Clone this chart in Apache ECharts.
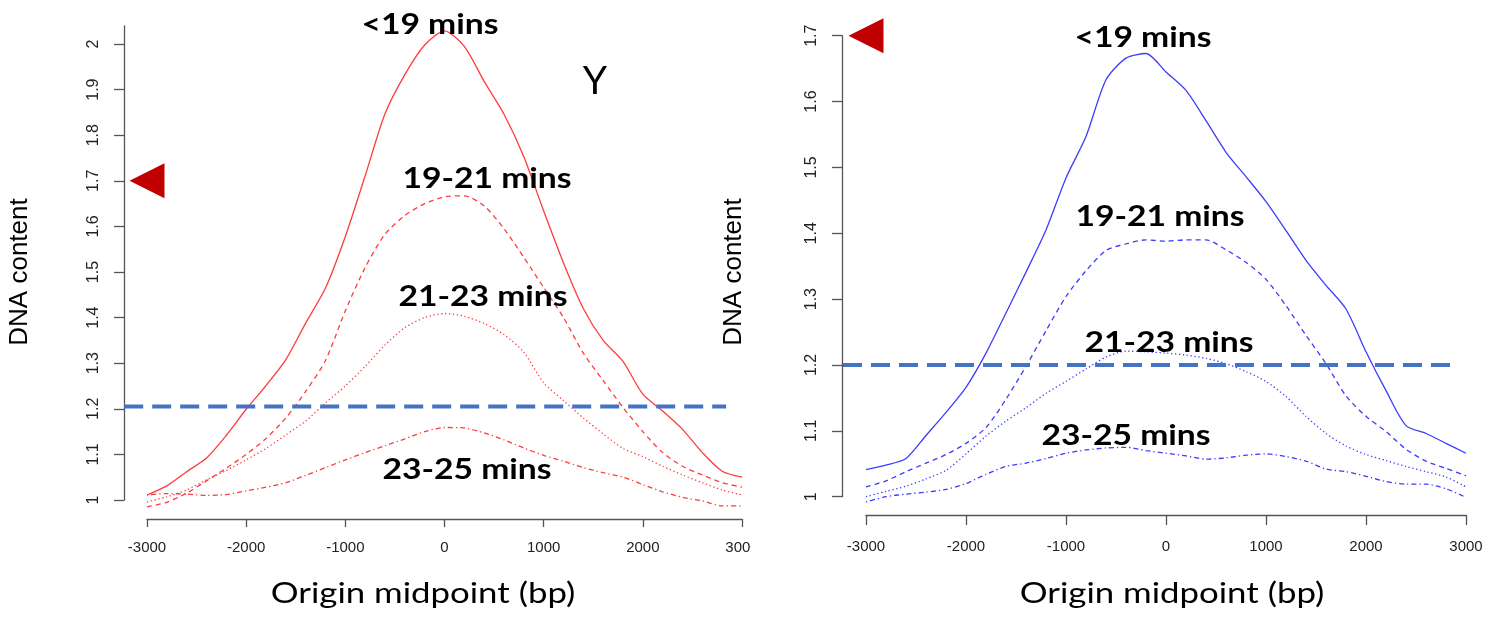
<!DOCTYPE html>
<html>
<head>
<meta charset="utf-8">
<script src="https://cdn.jsdelivr.net/npm/echarts@6/dist/echarts.min.js"></script>
<style>
  html, body { margin: 0; padding: 0; background: #fff; width: 1502px; height: 617px; overflow: hidden; }
  #leftClip { position: absolute; left: 0; top: 0; width: 751px; height: 617px; overflow: hidden; }
  #leftChart { position: absolute; left: 0; top: 0; width: 800px; height: 617px; }
  #rightChart { position: absolute; left: 0; top: 0; width: 1502px; height: 617px; }
</style>
</head>
<body>
<div id="leftClip"><div id="leftChart"></div></div>
<div id="rightChart"></div>
<script>
// Distance from the origin midpoint (bp)
const positions = [-3000, -2800, -2600, -2400, -2200, -2000, -1800, -1600, -1400, -1200, -1000,
  -800, -600, -400, -200, 0, 200, 400, 600, 800, 1000,
  1200, 1400, 1600, 1800, 2000, 2200, 2400, 2600, 2800, 3000];

const xTicks = [-3000, -2000, -1000, 0, 1000, 2000, 3000];
const leftYTicks = [1, 1.1, 1.2, 1.3, 1.4, 1.5, 1.6, 1.7, 1.8, 1.9, 2];
const rightYTicks = [1, 1.1, 1.2, 1.3, 1.4, 1.5, 1.6, 1.7];

const timeBins = ['<19 mins', '19-21 mins', '21-23 mins', '23-25 mins'];

// Left panel (red): DNA content per time bin
const leftLt19 = [1.011, 1.031, 1.062, 1.092, 1.142, 1.199, 1.251, 1.308, 1.388, 1.465, 1.578,
  1.711, 1.847, 1.933, 1.998, 2.029, 1.995, 1.918, 1.846, 1.753, 1.634,
  1.520, 1.420, 1.350, 1.304, 1.232, 1.195, 1.155, 1.104, 1.063, 1.050];
const left1921 = [0.985, 0.995, 1.015, 1.042, 1.070, 1.100, 1.135, 1.180, 1.238, 1.306, 1.415,
  1.510, 1.583, 1.624, 1.650, 1.665, 1.667, 1.645, 1.595, 1.532, 1.466,
  1.400, 1.322, 1.262, 1.203, 1.150, 1.104, 1.074, 1.055, 1.038, 1.028];
const left2123 = [0.996, 1.007, 1.022, 1.044, 1.065, 1.088, 1.113, 1.143, 1.173, 1.213, 1.250,
  1.293, 1.340, 1.378, 1.400, 1.409, 1.403, 1.387, 1.363, 1.324, 1.257,
  1.218, 1.180, 1.145, 1.113, 1.095, 1.074, 1.055, 1.038, 1.022, 1.011];
const left2325 = [1.011, 1.014, 1.013, 1.010, 1.012, 1.020, 1.028, 1.038, 1.054, 1.071, 1.088,
  1.104, 1.119, 1.134, 1.150, 1.159, 1.158, 1.147, 1.132, 1.114, 1.098,
  1.085, 1.071, 1.060, 1.050, 1.034, 1.018, 1.006, 0.998, 0.987, 0.987];

// Right panel (blue): DNA content per time bin
const rightLt19 = [1.041, 1.048, 1.058, 1.093, 1.128, 1.166, 1.218, 1.279, 1.341, 1.405, 1.484,
  1.547, 1.633, 1.666, 1.673, 1.645, 1.617, 1.571, 1.523, 1.486, 1.448,
  1.404, 1.359, 1.321, 1.285, 1.220, 1.161, 1.108, 1.096, 1.081, 1.066];
const right1921 = [1.015, 1.024, 1.038, 1.051, 1.064, 1.081, 1.105, 1.148, 1.198, 1.252, 1.304,
  1.343, 1.374, 1.384, 1.390, 1.388, 1.390, 1.390, 1.375, 1.356, 1.330,
  1.290, 1.245, 1.202, 1.153, 1.122, 1.099, 1.072, 1.054, 1.043, 1.032];
const right2123 = [1.000, 1.008, 1.016, 1.027, 1.040, 1.065, 1.092, 1.115, 1.135, 1.157, 1.175,
  1.194, 1.212, 1.221, 1.220, 1.218, 1.215, 1.210, 1.202, 1.190, 1.175,
  1.152, 1.122, 1.096, 1.077, 1.064, 1.055, 1.046, 1.038, 1.030, 1.015];
const right2325 = [0.992, 1.000, 1.004, 1.007, 1.011, 1.020, 1.034, 1.046, 1.051, 1.058, 1.066,
  1.071, 1.074, 1.075, 1.070, 1.066, 1.062, 1.057, 1.059, 1.063, 1.065,
  1.061, 1.054, 1.042, 1.038, 1.031, 1.023, 1.019, 1.019, 1.012, 0.999];

// Reference levels
const markerLevel = [1.7, 1.7];          // red arrowhead, left / right
const thresholdLevel = [1.205, 1.2];     // blue dashed line, left / right
const thresholdSpan = [-3230, 2840];     // bp range covered by the dashed line

const RED = '#FF3B3B';
const BLUE = '#3C3CFF';
const lineKinds = ['solid', [5, 4], [1.3, 2.6], [1.3, 3, 5, 3]];

function curve(values, color, kind) {
  return {
    type: 'line', silent: true, clip: false, symbol: 'none', smooth: 0.25, z: 3,
    data: positions.map((x, i) => [x, values[i]]),
    lineStyle: { color: color, width: 1.3, type: kind }
  };
}
function arrowhead(level) {
  return {
    type: 'scatter', silent: true, clip: false, z: 7,
    data: [[-3000, level]],
    symbol: 'triangle', symbolSize: [35, 35], symbolRotate: 90,
    itemStyle: { color: '#C00000', opacity: 1 }
  };
}
function label(text, x, y, opts) {
  opts = opts || {};
  return {
    type: 'text', x: x, y: y, z: 20, silent: true,
    scaleX: opts.scaleX || 1, rotation: opts.rotation || 0,
    style: {
      text: text, fill: '#000',
      fontFamily: opts.family || 'Lato', fontSize: opts.size || 29,
      fontWeight: opts.weight || 'bold',
      align: 'center', verticalAlign: 'middle',
      textAlign: 'center', textVerticalAlign: 'middle'
    }
  };
}
function axes(yTicks, yMax, xOffset, yOffset, xTickLen, xMargin) {
  const axisColor = '#555';
  return {
    xAxis: {
      type: 'value', min: -3000, max: 3000, interval: 1000, offset: xOffset,
      axisLine: { show: true, onZero: false, lineStyle: { color: axisColor, width: 1.3 } },
      axisTick: { show: true, length: xTickLen, customValues: xTicks, lineStyle: { color: axisColor, width: 1.3 } },
      axisLabel: { customValues: xTicks, margin: xMargin, fontSize: 15, fontFamily: 'Liberation Sans', color: '#222',
                   formatter: v => String(v) },
      splitLine: { show: false }
    },
    yAxis: {
      type: 'value', min: 1, max: yMax, offset: yOffset,
      axisLine: { show: true, onZero: false, lineStyle: { color: axisColor, width: 1.3 } },
      axisTick: { show: true, length: 10, customValues: yTicks, lineStyle: { color: axisColor, width: 1.3 } },
      axisLabel: { customValues: yTicks, rotate: 90, margin: 22, fontSize: 16,
                   fontFamily: 'Liberation Sans', color: '#222', formatter: v => String(v) },
      splitLine: { show: false }
    }
  };
}
// Dashed reference line placed through the chart's own scales
function thresholdGraphic(chart, level) {
  const a = chart.convertToPixel({ gridIndex: 0 }, [thresholdSpan[0], level]);
  const b = chart.convertToPixel({ gridIndex: 0 }, [thresholdSpan[1], level]);
  return {
    type: 'line', z: 15, silent: true,
    shape: { x1: a[0], y1: a[1], x2: b[0], y2: b[1] },
    style: { stroke: '#4472C4', lineWidth: 4, lineDash: [19, 9] }
  };
}

// Left panel
const leftAxes = axes(leftYTicks, 2.04, 19, 23, 8, 21);
const leftChart = echarts.init(document.getElementById('leftChart'), null, { renderer: 'canvas' });
const leftText = [
  label(timeBins[0], 430, 25, { scaleX: 1.16 }),
  label(timeBins[1], 487, 179, { scaleX: 1.16 }),
  label(timeBins[2], 483, 297, { scaleX: 1.16 }),
  label(timeBins[3], 467, 470, { scaleX: 1.16 }),
  label('Y', 595, 81, { weight: 'normal', size: 39 }),
  label('DNA content', 20, 272, { family: 'Liberation Sans', weight: 'normal', size: 26, rotation: Math.PI / 2 }),
  label('Origin midpoint (bp)', 423, 594, { weight: 'normal', size: 29, scaleX: 1.2 })
];
leftChart.setOption({
  animation: false,
  backgroundColor: 'transparent',
  grid: { left: 147, top: 25.8, width: 595, height: 474.2, containLabel: false, outerBoundsMode: 'none' },
  xAxis: leftAxes.xAxis,
  yAxis: leftAxes.yAxis,
  series: [
    curve(leftLt19, RED, lineKinds[0]),
    curve(left1921, RED, lineKinds[1]),
    curve(left2123, RED, lineKinds[2]),
    curve(left2325, RED, lineKinds[3]),
    arrowhead(markerLevel[0])
  ],
  graphic: leftText
});
leftChart.setOption({ graphic: leftText.concat([thresholdGraphic(leftChart, thresholdLevel[0])]) });

// Right panel
const rightAxes = axes(rightYTicks, 1.7, 18.3, 24, 10, 24);
const rightChart = echarts.init(document.getElementById('rightChart'), null, { renderer: 'canvas' });
const rightText = [
  label(timeBins[0], 1143, 38, { scaleX: 1.16 }),
  label(timeBins[1], 1160, 217, { scaleX: 1.16 }),
  label(timeBins[2], 1169, 343, { scaleX: 1.16 }),
  label(timeBins[3], 1126, 436, { scaleX: 1.16 }),
  label('DNA content', 734, 272, { family: 'Liberation Sans', weight: 'normal', size: 26, rotation: Math.PI / 2 }),
  label('Origin midpoint (bp)', 1172, 594, { weight: 'normal', size: 29, scaleX: 1.2 })
];
rightChart.setOption({
  animation: false,
  backgroundColor: 'transparent',
  grid: { left: 866, top: 35.7, width: 600, height: 461, containLabel: false, outerBoundsMode: 'none' },
  xAxis: rightAxes.xAxis,
  yAxis: rightAxes.yAxis,
  series: [
    curve(rightLt19, BLUE, lineKinds[0]),
    curve(right1921, BLUE, lineKinds[1]),
    curve(right2123, BLUE, lineKinds[2]),
    curve(right2325, BLUE, lineKinds[3]),
    arrowhead(markerLevel[1])
  ],
  graphic: rightText
});
rightChart.setOption({ graphic: rightText.concat([thresholdGraphic(rightChart, thresholdLevel[1])]) });
</script>
</body>
</html>
